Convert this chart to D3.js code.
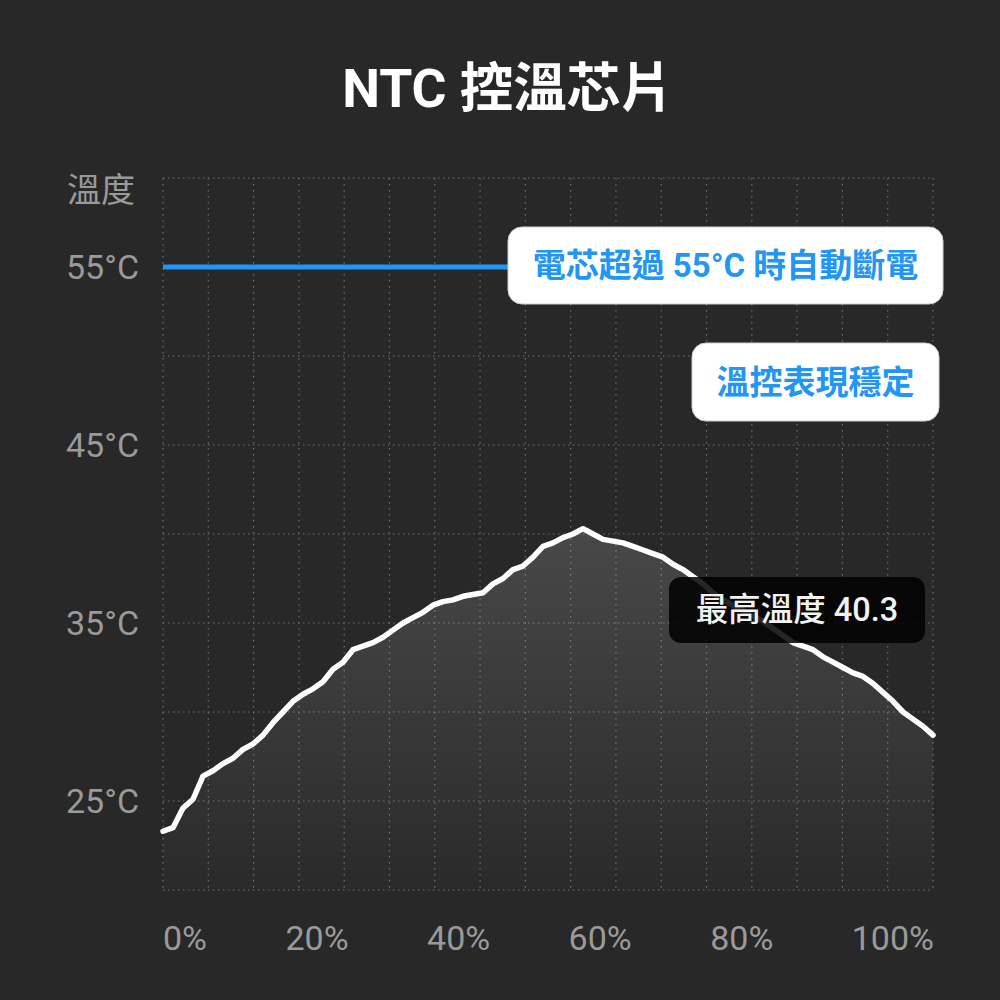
<!DOCTYPE html>
<html>
<head>
<meta charset="utf-8">
<script src="https://cdn.jsdelivr.net/npm/d3@7/dist/d3.min.js"></script>
<style>
  html, body { margin: 0; padding: 0; background: #282828; }
  svg { display: block; }
  text { font-family: Roboto, "Noto Sans CJK TC", sans-serif; }
</style>
</head>
<body>
<svg id="chart" width="1000" height="1000"></svg>
<script>
// ---- data ----
const title = "NTC 控溫芯片";
const yAxisTitle = "溫度";
const temps = [
  23.3, 23.5, 24.6, 25.1, 26.4, 26.7, 27.1, 27.4, 27.9, 28.2,
  28.7, 29.4, 30.0, 30.6, 31.0, 31.3, 31.7, 32.4, 32.8, 33.5,
  33.7, 33.9, 34.2, 34.6, 35.0, 35.3, 35.6, 36.0, 36.2, 36.3,
  36.5, 36.6, 36.7, 37.2, 37.5, 38.0, 38.2, 38.7, 39.3, 39.5,
  39.8, 40.0, 40.3, 40.0, 39.7, 39.6, 39.5, 39.3, 39.1, 38.9,
  38.7, 38.3, 38.0, 37.6, 37.2, 36.7, 36.3, 36.0, 35.7, 35.4,
  35.1, 34.7, 34.3, 33.9, 33.7, 33.5, 33.1, 32.8, 32.5, 32.2,
  32.0, 31.6, 31.1, 30.6, 30.0, 29.6, 29.2, 28.7
];
const yTickValues = [55, 45, 35, 25];
const yTickLabels = ["55°C", "45°C", "35°C", "25°C"];
const xTickLabels = ["0%", "20%", "40%", "60%", "80%", "100%"];
const cutoffTemp = 55;
const cutoffNote = "電芯超過 55°C 時自動斷電";
const stableNote = "溫控表現穩定";
const maxTemp = d3.max(temps);
const maxNote = "最高溫度 " + maxTemp.toFixed(1);

// ---- layout ----
const svg = d3.select("#chart");
const L = 163, R = 933, T = 178, B = 890;
const x = d3.scaleLinear().domain([0, temps.length - 1]).range([L, R]);
const y = d3.scaleLinear().domain([20, 60]).range([B, T]);
const gx = d3.scaleLinear().domain([0, 17]).range([L, R]);

const defs = svg.append("defs");
const grad = defs.append("linearGradient")
  .attr("id", "areaGrad").attr("gradientUnits", "userSpaceOnUse")
  .attr("x1", 0).attr("x2", 0).attr("y1", y(maxTemp)).attr("y2", B);
grad.append("stop").attr("offset", 0).attr("stop-color", "#ffffff").attr("stop-opacity", 0.15);
grad.append("stop").attr("offset", 1).attr("stop-color", "#ffffff").attr("stop-opacity", 0.01);

// title
svg.append("text").attr("x", 508).attr("y", 107)
  .attr("text-anchor", "middle").attr("fill", "#ffffff")
  .attr("font-size", 53.5).attr("font-weight", 700).text(title);

// grid
const grid = svg.append("g");
grid.selectAll("line.h").data(d3.range(20, 61, 5)).join("line")
  .attr("x1", L).attr("x2", R).attr("y1", d => y(d)).attr("y2", d => y(d))
  .attr("stroke", "#6e6e6e").attr("stroke-width", 1.2).attr("stroke-dasharray", "1.5 3.5");
grid.selectAll("line.v").data(d3.range(0, 18)).join("line")
  .attr("x1", d => gx(d)).attr("x2", d => gx(d)).attr("y1", T).attr("y2", B)
  .attr("stroke", "#6e6e6e").attr("stroke-width", 1.2).attr("stroke-dasharray", "1.5 4.5");

// area + line
svg.append("path").datum(temps)
  .attr("d", d3.area().x((d, i) => x(i)).y0(B).y1(d => y(d)))
  .attr("fill", "url(#areaGrad)");
svg.append("path").datum(temps)
  .attr("d", d3.line().x((d, i) => x(i)).y(d => y(d)))
  .attr("fill", "none").attr("stroke", "#ffffff").attr("stroke-width", 5.5)
  .attr("stroke-linejoin", "round").attr("stroke-linecap", "round");

// cutoff line
svg.append("line").attr("x1", L).attr("x2", 720)
  .attr("y1", y(cutoffTemp)).attr("y2", y(cutoffTemp))
  .attr("stroke", "#2196f3").attr("stroke-width", 5);

// y labels
svg.append("text").attr("x", 67).attr("y", 190).attr("dominant-baseline", "central")
  .attr("fill", "#9a9a9a").attr("font-size", 34).text(yAxisTitle);
svg.selectAll("text.ytick").data(yTickValues).join("text")
  .attr("class", "ytick").attr("x", 66).attr("y", d => y(d)).attr("dy", "0.36em")
  .attr("fill", "#9a9a9a").attr("font-size", 34).text((d, i) => yTickLabels[i]);

// x labels: spread with equal gaps between plot edges
const xl = svg.selectAll("text.xtick").data(xTickLabels).join("text")
  .attr("class", "xtick").attr("y", 950)
  .attr("fill", "#9a9a9a").attr("font-size", 34).text(d => d);
const widths = xl.nodes().map(n => n.getComputedTextLength());
const xStart = 163, xEnd = 934;
const gap = (xEnd - xStart - d3.sum(widths)) / (widths.length - 1);
let acc = xStart;
const xPos = widths.map(w => { const p = acc; acc += w + gap; return p; });
xl.attr("x", (d, i) => xPos[i]);

// annotation boxes
function note(cx, cy, w, h, rx, fill, textFill, size, weight, txt, stroke) {
  const g = svg.append("g");
  g.append("rect").attr("x", cx - w / 2).attr("y", cy - h / 2)
    .attr("width", w).attr("height", h).attr("rx", rx)
    .attr("fill", fill).attr("stroke", stroke || "none").attr("stroke-width", 1);
  g.append("text").attr("x", cx).attr("y", cy).attr("text-anchor", "middle")
    .attr("dominant-baseline", "central").attr("fill", textFill)
    .attr("font-size", size).attr("font-weight", weight).text(txt);
}
note(725.5, 265.5, 435, 77, 14, "#ffffff", "#2196f3", 33, 700, cutoffNote, "#cfcfcf");
note(815.5, 382, 247, 78, 14, "#ffffff", "#2196f3", 33, 700, stableNote, "#cfcfcf");
note(797, 610, 256, 66, 12, "rgba(0,0,0,0.85)", "#f2f2f2", 32.5, 500, maxNote);
</script>
</body>
</html>
